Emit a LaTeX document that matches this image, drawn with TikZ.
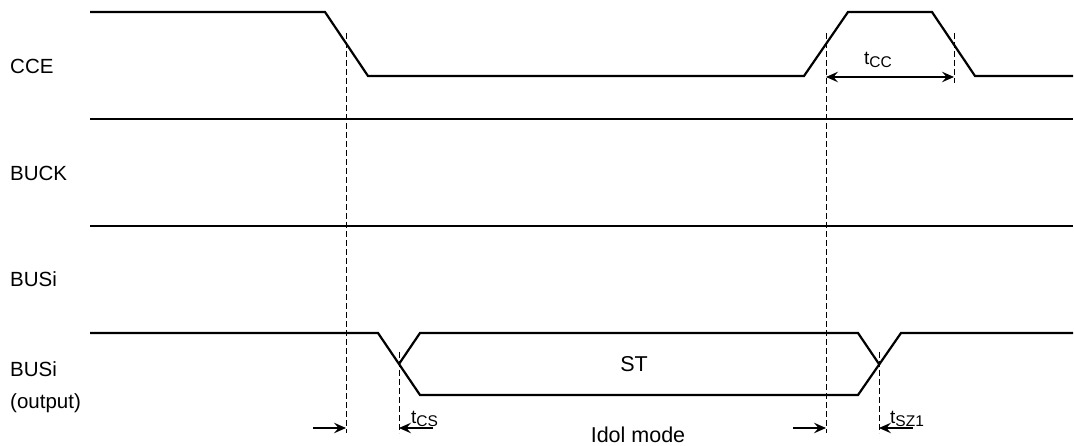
\documentclass[tikz,border=0pt]{standalone}
\usepackage{fontspec}
\setmainfont{Liberation Sans}
\usetikzlibrary{arrows.meta}
\newcommand\tmark[1]{{\fontsize{19}{20}\selectfont t}\raisebox{-3pt}{\fontsize{15.5}{16}\selectfont #1}}
\begin{document}
\begin{tikzpicture}[x=1pt,y=-1pt,
  sig/.style={line width=2.2pt, line join=miter},
  guide/.style={line width=0.9pt, dash pattern=on 6pt off 3pt},
  tip/.tip={Stealth[length=12pt,width=10.5pt,inset=4.5pt]},
  dimarrow/.style={line width=1.2pt, -tip},
  dimboth/.style={line width=1.2pt, tip-tip},
  lbl/.style={font=\fontsize{20.5}{24}\selectfont, anchor=base west, inner sep=0pt},
  biglbl/.style={font=\fontsize{21.5}{24}\selectfont, anchor=base, inner sep=0pt},
  tlbl/.style={anchor=base west, inner sep=0pt}]
\useasboundingbox (0,0) rectangle (1074,446);

% signal labels
\node[lbl] (cce) at (10,74) {CCE};
\node[lbl] (buck) at (10,181) {BUCK};
\node[lbl] (busi) at (10,287) {BUSi};
\node[lbl] (busio) at (10,377) {BUSi};
\node[lbl] (outp) at (10,408) {(output)};

% waveforms
\draw[sig] (90,12) -- (325,12) -- (368,76) -- (804,76) -- (848,12) -- (932,12) -- (975,76) -- (1073,76);
\draw[sig] (90,119) -- (1073,119);
\draw[sig] (90,226) -- (1073,226);
\draw[sig] (90,333) -- (378,333) -- (420,395) -- (858,395) -- (901,333) -- (1073,333);
\draw[sig] (399,364) -- (420,333) -- (858,333) -- (879,364);

% guide coordinates
\coordinate (g1t) at (346,33);  \coordinate (g1b) at (346,433);
\coordinate (g2t) at (826,33);  \coordinate (g2b) at (826,433);
\coordinate (g3t) at (954,33);  \coordinate (g3b) at (954,83);
\coordinate (g4t) at (399,352); \coordinate (g4b) at (399,433);
\coordinate (g5t) at (879,352); \coordinate (g5b) at (879,433);
\draw[guide] (g1t) -- (g1b);
\draw[guide] (g2t) -- (g2b);
\draw[guide] (g3t) -- (g3b);
\draw[guide] (g4t) -- (g4b);
\draw[guide] (g5t) -- (g5b);

% dimension arrows
\coordinate (a1s) at (313,428); \coordinate (a1e) at (346,428);
\coordinate (a2s) at (433,428); \coordinate (a2e) at (399,428);
\coordinate (a3s) at (793,428); \coordinate (a3e) at (826,428);
\coordinate (a4s) at (913,428); \coordinate (a4e) at (879,428);
\coordinate (ccl) at (826,77);  \coordinate (ccr) at (954,77);
\draw[dimarrow] (a1s) -- (a1e);
\draw[dimarrow] (a2s) -- (a2e);
\draw[dimarrow] (a3s) -- (a3e);
\draw[dimarrow] (a4s) -- (a4e);
\draw[dimboth] (ccl) -- (ccr);

% timing labels
\node[tlbl] (tcc) at (864,65) {\tmark{CC}};
\node[tlbl] (tcs) at (411,423) {\tmark{CS}};
\node[tlbl] (tsz) at (890,423) {\tmark{SZ1}};

\node[biglbl] (st) at (634,372) {ST};
\node[biglbl] (idol) at (638,442) {Idol mode};
\end{tikzpicture}
\end{document}
